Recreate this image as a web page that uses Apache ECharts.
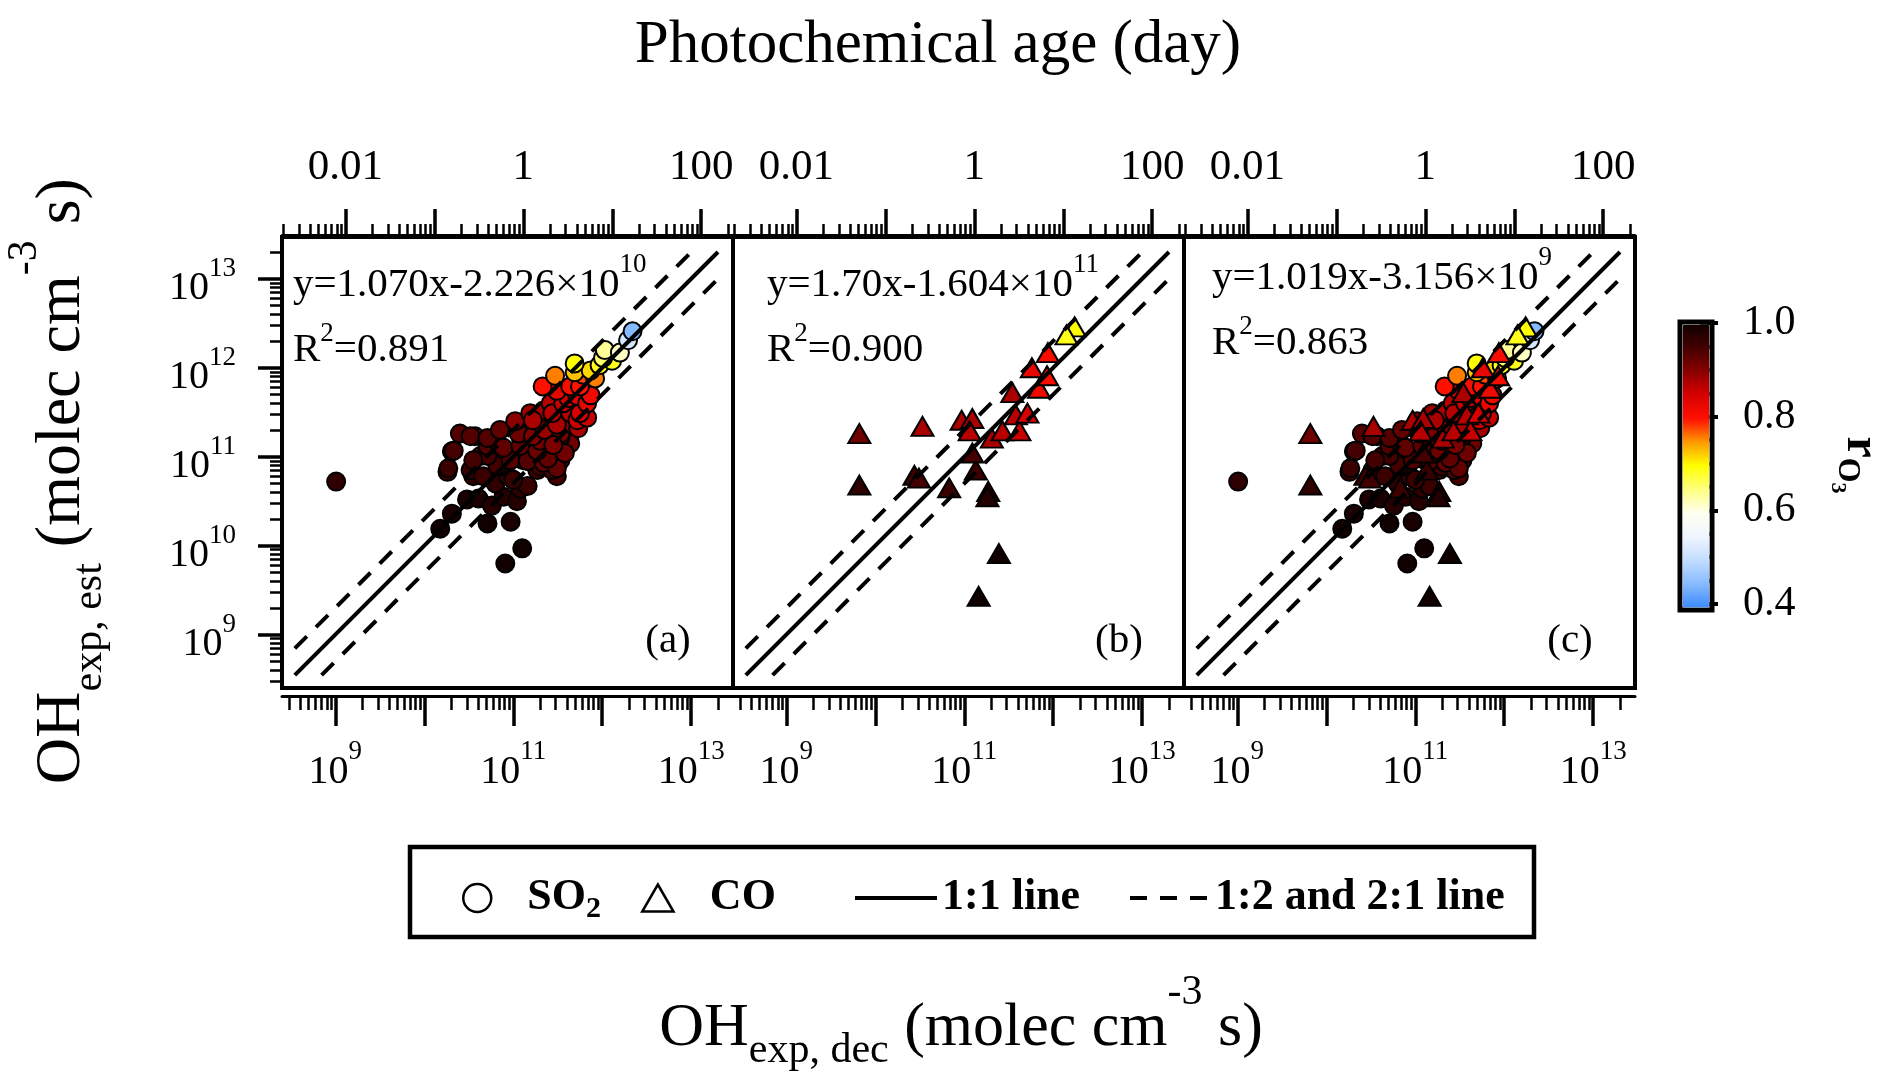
<!DOCTYPE html>
<html>
<head>
<meta charset="utf-8">
<title>OH exposure comparison</title>
<script src="https://cdn.jsdelivr.net/npm/echarts@6/dist/echarts.min.js"></script>
<style>
html, body { margin: 0; padding: 0; background: #fff; }
#chart { width: 1892px; height: 1082px; }
</style>
</head>
<body>
<div id="chart"></div>
<script>
// SO2 based points: OH exposure from decay (x), estimated (y), r(O3) colour
const so2X = [1.02e9, 8.13e10, 1.26e11, 1.51e10, 2.04e10, 3.02e10, 4.07e10, 5.13e10, 9.33e10, 5.75e10,
  7.76e10, 1.10e11, 1.82e10, 2.04e10, 2.51e10, 3.72e10, 3.31e10, 4.27e10, 4.57e10, 5.50e10,
  7.08e10, 7.76e10, 8.71e10, 1.10e11, 1.20e11, 1.29e11, 1.45e11, 1.66e11, 1.86e11, 2.00e11,
  2.19e11, 2.63e11, 3.09e11, 3.39e11, 2.75e11, 4.37e11, 3.39e11, 4.07e11, 2.82e11, 2.19e11,
  1.55e11, 2.63e11, 3.63e11, 4.37e11, 5.62e11, 6.76e11, 5.25e11, 7.41e11, 4.37e11, 5.62e11,
  3.09e11, 2.14e11, 2.95e11, 8.32e11, 4.90e11, 4.90e11, 9.33e11, 1.29e12, 1.07e12, 1.58e12,
  1.95e12, 2.19e12, 1.05e11, 1.15e11, 1.66e11, 2.14e10, 5.13e10, 7.76e10, 1.20e11, 1.86e11,
  2.82e11, 1.86e10, 6.61e10, 9.33e10, 1.45e11, 2.19e11, 3.09e11, 3.55e10, 7.08e10, 1.00e11,
  2.00e11, 5.13e10, 3.55e10, 7.08e10, 3.31e10, 5.13e10, 2.00e11, 3.39e11, 4.17e11, 2.75e11,
  1.66e11, 5.25e11, 3.09e11, 2.24e11, 6.17e11, 7.41e11, 1.02e12, 6.76e11, 5.37e11, 3.80e11,
  2.45e11, 1.20e11, 6.31e10];
const so2Y = [5.25e10, 6.31e9, 9.33e9, 1.55e10, 2.29e10, 3.31e10, 3.39e10, 1.78e10, 1.86e10, 2.82e10,
  3.55e10, 3.16e10, 6.76e10, 1.15e11, 1.82e11, 1.70e11, 7.08e10, 1.02e11, 6.03e10, 1.17e11,
  2.00e11, 1.02e11, 6.03e10, 2.40e11, 1.70e11, 9.12e10, 4.68e10, 1.17e11, 7.08e10, 1.82e11,
  9.12e10, 1.41e11, 6.03e10, 9.12e10, 7.08e10, 1.41e11, 1.82e11, 2.40e11, 2.88e11, 3.31e11,
  3.09e11, 3.98e11, 3.98e11, 3.09e11, 3.09e11, 3.98e11, 4.79e11, 4.90e11, 6.17e11, 6.17e11,
  5.50e11, 6.17e11, 8.13e11, 7.59e11, 8.91e11, 1.12e12, 1.07e12, 1.20e12, 1.58e12, 1.48e12,
  2.04e12, 2.57e12, 2.51e11, 1.82e11, 1.70e11, 1.17e11, 1.32e11, 1.26e11, 1.32e11, 1.17e11,
  1.35e11, 7.41e10, 7.94e10, 9.12e10, 8.91e10, 8.51e10, 7.41e10, 6.03e10, 7.76e10, 5.50e10,
  7.76e10, 1.02e11, 9.12e10, 1.32e11, 1.70e11, 1.62e11, 1.51e11, 1.66e11, 4.57e11, 3.09e11,
  2.57e11, 2.57e11, 2.29e11, 2.00e11, 8.32e11, 9.33e11, 1.29e12, 2.75e11, 2.09e11, 1.10e11,
  9.55e10, 4.37e10, 5.01e10];
const so2R = [0.97, 1.0, 1.0, 1.0, 0.99, 0.99, 0.99, 1.0, 0.99, 0.98,
  0.98, 0.98, 0.96, 0.95, 0.94, 0.94, 0.96, 0.95, 0.96, 0.95,
  0.93, 0.95, 0.96, 0.92, 0.93, 0.95, 0.96, 0.94, 0.95, 0.93,
  0.94, 0.93, 0.95, 0.94, 0.94, 0.92, 0.91, 0.90, 0.89, 0.88,
  0.89, 0.87, 0.86, 0.87, 0.85, 0.83, 0.84, 0.82, 0.81, 0.80,
  0.83, 0.80, 0.76, 0.76, 0.73, 0.70, 0.69, 0.69, 0.64, 0.62,
  0.52, 0.45, 0.90, 0.92, 0.91, 0.95, 0.94, 0.93, 0.93, 0.92,
  0.91, 0.96, 0.95, 0.94, 0.94, 0.93, 0.93, 0.97, 0.96, 0.96,
  0.95, 0.95, 0.95, 0.94, 0.94, 0.94, 0.92, 0.92, 0.85, 0.87,
  0.88, 0.86, 0.88, 0.89, 0.78, 0.72, 0.66, 0.86, 0.88, 0.92,
  0.93, 0.97, 0.97];

// CO based points
const coX = [6.61e9, 6.61e9, 3.39e10, 2.75e10, 3.09e10, 9.33e10, 1.23e11, 1.15e11, 6.76e10, 1.23e11,
  1.35e11, 1.86e11, 1.82e11, 2.04e11, 2.69e11, 4.17e11, 5.13e11, 3.80e11, 3.47e11, 6.92e11,
  8.51e11, 5.75e11, 8.71e11, 1.41e12, 1.74e12, 2.45e11, 1.45e11];
const coY = [1.82e11, 4.79e10, 2.19e11, 6.17e10, 5.75e10, 2.57e11, 2.69e11, 1.95e11, 4.47e10, 1.10e11,
  7.08e10, 4.07e10, 3.55e10, 1.62e11, 1.95e11, 1.95e11, 3.09e11, 2.95e11, 5.25e11, 5.89e11,
  8.13e11, 1.00e12, 1.48e12, 2.34e12, 2.88e12, 8.13e9, 2.69e9];
const coR = [0.92, 0.97, 0.88, 0.96, 0.95, 0.88, 0.88, 0.87, 0.96, 0.95,
  0.96, 0.98, 0.98, 0.88, 0.87, 0.86, 0.85, 0.87, 0.88, 0.82,
  0.81, 0.83, 0.81, 0.69, 0.70, 1.0, 1.0];

// reference lines (1:1, 2:1, 1:2)
const line11X = [3.5e8, 2e13];
const line11Y = [3.5e8, 2e13];
const line21X = [3.5e8, 1e13];
const line21Y = [7e8, 2e13];
const line12X = [7e8, 2e13];
const line12Y = [3.5e8, 1e13];

// fit text per panel
const fitText = ['y=1.070x-2.226×10', 'y=1.70x-1.604×10', 'y=1.019x-3.156×10'];
const fitExp = ['10', '11', '9'];
const r2Text = ['0.891', '0.900', '0.863'];
const panelTags = ['(a)', '(b)', '(c)'];

// ticks
const expMajor = [1e9, 1e10, 1e11, 1e12, 1e13];
const expLabelsX = [1e9, 1e11, 1e13];
const ageMajor = [0.01, 0.1, 1, 10, 100];
const ageLabels = [0.01, 1, 100];
const rLabels = [0.4, 0.6, 0.8, 1.0];

const F = "'Liberation Serif','Times New Roman',serif";
const LOG_MIN = 8.4, LOG_MAX = 13.47;
const OH_DAY = 1.5e6 * 86400;
const vMin = Math.pow(10, LOG_MIN), vMax = Math.pow(10, LOG_MAX);

function minorTicks(lo, hi) {
  const out = [];
  for (let n = Math.floor(Math.log10(lo)); n <= Math.ceil(Math.log10(hi)); n++) {
    for (let k = 2; k <= 9; k++) {
      const v = Number((k * Math.pow(10, n)).toPrecision(4));
      if (v > lo && v < hi) out.push(v);
    }
  }
  return out;
}

const expRich = {
  b: { fontFamily: F, fontSize: 40, color: '#000', padding: [20, 0, 0, 0] },
  s: { fontFamily: F, fontSize: 27, color: '#000', padding: [0, 0, 20, 0] }
};
const expFmt = v => '{b|10}{s|' + Math.round(Math.log10(v)) + '}';

const cmap = ['#3d8bff', '#86bbff', '#c2ddff', '#eef5ff', '#fffff0', '#ffff80', '#ffff00',
  '#ff9a00', '#ff1000', '#d80000', '#8a0000', '#440000', '#100000'];

const panelLeft = [282, 733, 1184];
const yIdx = [0, 2, 3];
const grids = [], xAxes = [], yAxes = [], series = [], scatterIdx = [];

function pts(xs, ys, rs) {
  // darker first so light points end on top
  return xs.map((x, k) => [x, ys[k], rs[k]]).sort((a, b) => b[2] - a[2]);
}

panelLeft.forEach((left, i) => {
  grids.push({ left: left, top: 237, width: 451, height: 451, show: true,
    backgroundColor: '#fff', borderColor: '#000', borderWidth: 4 });
  const ax = { gridIndex: i, type: 'log', min: vMin, max: vMax, splitLine: { show: false } };
  xAxes.push(Object.assign({}, ax, { position: 'bottom', offset: 8,
    axisLine: { show: true, onZero: false, lineStyle: { color: '#000', width: 3 } },
    axisTick: { show: true, customValues: expMajor, length: 30, lineStyle: { color: '#000', width: 3.5 } },
    axisLabel: { customValues: expLabelsX, formatter: expFmt, rich: expRich, margin: 36 } }));
  xAxes.push(Object.assign({}, ax, { position: 'bottom', offset: 8,
    axisLine: { show: false, onZero: false },
    axisTick: { show: true, customValues: minorTicks(vMin, vMax), length: 14, lineStyle: { color: '#000', width: 2.5 } },
    axisLabel: { show: false } }));
  const ageAx = { gridIndex: i, type: 'log', min: vMin / OH_DAY, max: vMax / OH_DAY, position: 'top', offset: 2,
    splitLine: { show: false } };
  xAxes.push(Object.assign({}, ageAx, {
    axisLine: { show: true, onZero: false, lineStyle: { color: '#000', width: 3 } },
    axisTick: { show: true, customValues: ageMajor, length: 26, lineStyle: { color: '#000', width: 3.5 } },
    axisLabel: { customValues: ageLabels, formatter: v => String(v), fontFamily: F, fontSize: 43,
      color: '#000', margin: 46 } }));
  xAxes.push(Object.assign({}, ageAx, {
    axisLine: { show: false, onZero: false },
    axisTick: { show: true, customValues: minorTicks(vMin / OH_DAY, vMax / OH_DAY), length: 11,
      lineStyle: { color: '#000', width: 2.5 } },
    axisLabel: { show: false } }));

  if (i === 0) {
    const ay = { gridIndex: 0, type: 'log', min: vMin, max: vMax, position: 'left', splitLine: { show: false } };
    yAxes.push(Object.assign({}, ay, {
      axisLine: { show: true, onZero: false, lineStyle: { color: '#000', width: 3 } },
      axisTick: { show: true, customValues: expMajor, length: 24, lineStyle: { color: '#000', width: 3.5 } },
      axisLabel: { customValues: expMajor, formatter: expFmt, rich: expRich, margin: 46 } }));
    yAxes.push(Object.assign({}, ay, {
      axisLine: { show: false, onZero: false },
      axisTick: { show: true, customValues: minorTicks(vMin, vMax), length: 12, lineStyle: { color: '#000', width: 2.5 } },
      axisLabel: { show: false } }));
  } else {
    yAxes.push({ gridIndex: i, type: 'log', min: vMin, max: vMax, show: false });
  }

  const lineBase = { type: 'line', xAxisIndex: i * 4, yAxisIndex: yIdx[i], symbol: 'none', silent: true };
  series.push(Object.assign({}, lineBase, { name: '1:1 line',
    lineStyle: { color: '#000', width: 4 },
    data: line11X.map((x, k) => [x, line11Y[k]]) }));
  series.push(Object.assign({}, lineBase, { name: '1:2 and 2:1 line',
    lineStyle: { color: '#000', width: 4, type: [17, 13] },
    data: line21X.map((x, k) => [x, line21Y[k]]) }));
  series.push(Object.assign({}, lineBase, { name: '1:2 and 2:1 line',
    lineStyle: { color: '#000', width: 4, type: [17, 13] },
    data: line12X.map((x, k) => [x, line12Y[k]]) }));
  if (i !== 1) {
    scatterIdx.push(series.length);
    series.push({ type: 'scatter', name: 'SO2', xAxisIndex: i * 4, yAxisIndex: yIdx[i],
      symbol: 'circle', symbolSize: 18,
      itemStyle: { opacity: 1, borderColor: '#000', borderWidth: 2 },
      data: pts(so2X, so2Y, so2R) });
  }
  if (i !== 0) {
    scatterIdx.push(series.length);
    series.push({ type: 'scatter', name: 'CO', xAxisIndex: i * 4, yAxisIndex: yIdx[i],
      symbol: 'triangle', symbolSize: [22, 19],
      itemStyle: { opacity: 1, borderColor: '#000', borderWidth: 2 },
      data: pts(coX, coY, coR) });
  }
});

// colour bar tick axis
grids.push({ left: 1700, top: 323, width: 12, height: 281, show: false });
xAxes.push({ gridIndex: 3, type: 'value', show: false });
yAxes.push({ gridIndex: 3, type: 'value', min: 0.4, max: 1.0, interval: 0.2, position: 'right',
  axisLine: { show: false },
  axisTick: { show: true, length: 18, lineStyle: { color: '#000', width: 4 } },
  minorTick: { show: true, splitNumber: 4, length: 10, lineStyle: { color: '#000', width: 4 } },
  splitLine: { show: false },
  axisLabel: { customValues: rLabels, formatter: v => v.toFixed(1), fontFamily: F, fontSize: 42,
    color: '#000', margin: 31 } });

const legendText = { fontFamily: F, fontWeight: 'bold', fontSize: 44, color: '#000', lineHeight: 44,
  rich: { sub: { fontFamily: F, fontWeight: 'bold', fontSize: 30, color: '#000', padding: [22, 0, 0, 0] } } };
const legendBase = { top: 876, itemHeight: 28, padding: 0, selectedMode: false, textStyle: legendText,
  formatter: n => n === 'SO2' ? 'SO{sub|2}' : n };

const gRich = (size, supSize, shift) => ({
  b: { fill: '#000', fontFamily: F, fontSize: size, padding: [shift, 0, 0, 0] },
  s: { fill: '#000', fontFamily: F, fontSize: supSize, padding: [0, 0, shift, 0] }
});

const textLeft = [293, 767, 1212];
const textTop = [275, 275, 268];
const graphics = [
  { type: 'rect', shape: { x: 410, y: 847, width: 1124, height: 90 },
    style: { fill: 'none', stroke: '#000', lineWidth: 4.5 } },
  { type: 'text', x: 938, y: 46, style: { text: 'Photochemical age (day)', fill: '#000',
    fontFamily: F, fontSize: 61, align: 'center', verticalAlign: 'middle' } },
  { type: 'text', x: 961, y: 1029, style: {
    text: '{b|OH}{sub|exp, dec}{b| (molec cm}{sup|-3}{b| s)}', align: 'center', verticalAlign: 'middle',
    rich: { b: { fill: '#000', fontFamily: F, fontSize: 62 },
      sub: { fill: '#000', fontFamily: F, fontSize: 42, padding: [44, 0, 0, 0] },
      sup: { fill: '#000', fontFamily: F, fontSize: 42, padding: [0, 0, 72, 0] } } } },
  { type: 'text', x: 62, y: 481, rotation: Math.PI / 2, style: {
    text: '{b|OH}{sub|exp, est}{b| (molec cm}{sup|-3}{b| s)}', align: 'center', verticalAlign: 'middle',
    rich: { b: { fill: '#000', fontFamily: F, fontSize: 64 },
      sub: { fill: '#000', fontFamily: F, fontSize: 42, padding: [56, 0, 0, 0] },
      sup: { fill: '#000', fontFamily: F, fontSize: 42, padding: [0, 0, 74, 0] } } } },
  { type: 'text', x: 1860, y: 465, rotation: -Math.PI / 2, style: {
    text: '{r|r}{o|O}{t|3}', align: 'center', verticalAlign: 'middle',
    rich: { r: { fill: '#000', fontFamily: F, fontSize: 48, fontWeight: 'bold' },
      o: { fill: '#000', fontFamily: F, fontSize: 32, fontWeight: 'bold', padding: [26, 0, 0, 0] },
      t: { fill: '#000', fontFamily: F, fontSize: 22, fontWeight: 'bold', padding: [44, 0, 0, 0] } } } }
];
panelLeft.forEach((left, i) => {
  graphics.push({ type: 'text', x: textLeft[i], y: textTop[i], style: {
    text: '{b|' + fitText[i] + '}{s|' + fitExp[i] + '}', rich: gRich(41, 27, 20),
    align: 'left', verticalAlign: 'middle' } });
  graphics.push({ type: 'text', x: textLeft[i], y: textTop[i] + 67, style: {
    text: '{b|R}{s|2}{b|=' + r2Text[i] + '}', rich: gRich(41, 27, 16),
    align: 'left', verticalAlign: 'middle' } });
  graphics.push({ type: 'text', x: left + 386, y: 641, style: { text: panelTags[i], fill: '#000',
    fontFamily: F, fontSize: 41, align: 'center', verticalAlign: 'middle' } });
});

const chart = echarts.init(document.getElementById('chart'));
chart.setOption({
  animation: false,
  backgroundColor: '#fff',
  textStyle: { fontFamily: F },
  grid: grids,
  xAxis: xAxes,
  yAxis: yAxes,
  visualMap: {
    type: 'continuous', min: 0.4, max: 1.0, dimension: 2, seriesIndex: scatterIdx,
    inRange: { color: cmap }, calculable: false, hoverLink: false,
    left: 1677.5, top: 319.5, itemWidth: 27, itemHeight: 283, padding: 2.5,
    borderColor: '#000', borderWidth: 5
  },
  legend: [
    Object.assign({}, legendBase, { left: 462, itemWidth: 90,
      data: [{ name: 'SO2', icon: 'circle', itemStyle: { color: '#fff', borderColor: '#000', borderWidth: 2.5 } }] }),
    Object.assign({}, legendBase, { left: 641, itemWidth: 94, itemHeight: 27,
      data: [{ name: 'CO', icon: 'path://M10,0L20,17.3L0,17.3Z',
        itemStyle: { color: '#fff', borderColor: '#000', borderWidth: 2.5 } }] }),
    Object.assign({}, legendBase, { left: 853, itemWidth: 82, lineStyle: { width: 4, color: '#000' },
      data: [{ name: '1:1 line', itemStyle: { color: 'transparent', borderColor: 'transparent' } }] }),
    Object.assign({}, legendBase, { left: 1128, itemWidth: 80, lineStyle: { width: 4, color: '#000' },
      data: [{ name: '1:2 and 2:1 line', itemStyle: { color: 'transparent', borderColor: 'transparent' } }] })
  ],
  graphic: graphics,
  series: series
});

window.addEventListener('resize', function () {
  chart.resize();
});
</script>
</body>
</html>
